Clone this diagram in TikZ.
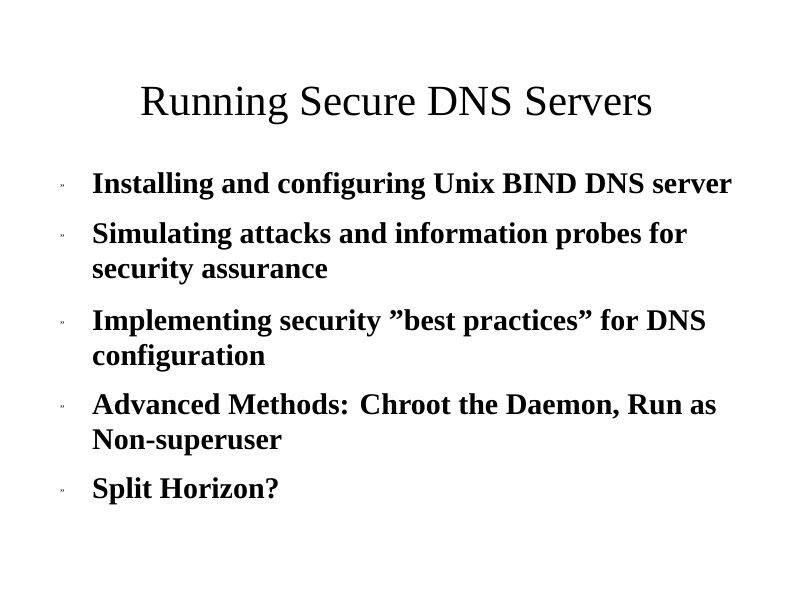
\documentclass[tikz,border=0pt]{standalone}
\usepackage{fontspec}
\setmainfont{Liberation Serif}
\begin{document}
\begin{tikzpicture}[x=1pt,y=-1pt,
  item/.style={anchor=base west,inner sep=0,font=\bfseries\fontsize{30}{36}\selectfont},
  bul/.style={anchor=base west,inner sep=0,font=\fontsize{10}{10}\selectfont}]
\useasboundingbox[fill=white] (0,0) rectangle (794,595);
\node[anchor=base,inner sep=0,font=\fontsize{43}{50}\selectfont] (title) at (397,115) {Running Secure DNS Servers};
\node[item] (i1) at (92,193) {Installing and configuring Unix BIND DNS server};
\node[item] (i2) at (92,243) {Simulating attacks and information probes for};
\node[item] (i2b) at (92,278) {security assurance};
\node[item] (i3) at (92,330) {Implementing security \symbol{34}best practices\symbol{34} for DNS};
\node[item] (i3b) at (92,365) {configuration};
\node[item] (i4) at (92,414) {Advanced Methods: Chroot the Daemon, Run as};
\node[item] (i4b) at (92,449) {Non-superuser};
\node[item] (i5) at (92,498) {Split Horizon?};
\foreach \y/\n in {193/1,243/2,330/3,414/4,498/5}
  \node[bul] (b\n) at (60,\y-2) {\symbol{34}};
\end{tikzpicture}
\end{document}
